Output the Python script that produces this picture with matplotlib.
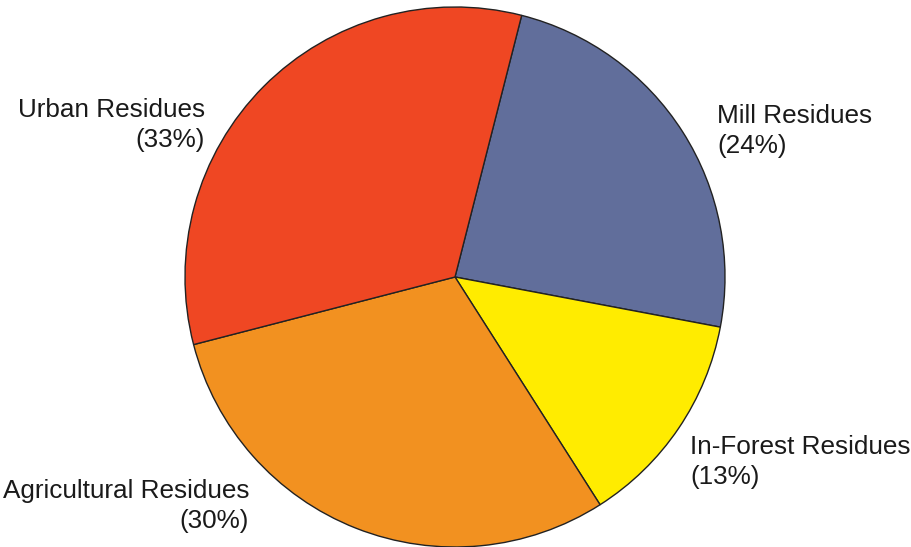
import matplotlib
matplotlib.use('Agg')
import matplotlib.pyplot as plt

labels = ['Mill Residues', 'In-Forest Residues', 'Agricultural Residues', 'Urban Residues']
shares = [24, 13, 30, 33]
colors = ['#616e9b', '#ffec00', '#f29120', '#ef4723']

plt.rcParams['font.family'] = ['Liberation Sans', 'DejaVu Sans']

fig = plt.figure(figsize=(9.11, 5.47), dpi=100)
ax = fig.add_axes([0, 0, 1, 1])
R = 270.0
cx, cy = 455.0, 277.0
ax.pie(shares, colors=colors, startangle=75.7, counterclock=False, radius=1,
       wedgeprops=dict(edgecolor='#222222', linewidth=1.0))
ax.set_xlim(-cx / R, (911 - cx) / R)
ax.set_ylim(-(547 - cy) / R, cy / R)
ax.set_aspect('equal')
ax.axis('off')

# label anchors in pixels (x, y-centre, alignment)
pos = [(717, 131, 'left'), (690, 462, 'left'), (249, 506, 'right'), (205, 125, 'right')]
for lab, s, (px, py, ha) in zip(labels, shares, pos):
    ax.text((px - cx) / R, (cy - py) / R, f'{lab}\n({s}%)', ha=ha, va='center',
            multialignment=ha, fontsize=18.8, color='#1a1a1a', linespacing=1.27,
            fontweight='light')

fig.savefig('out.png', dpi=100)
